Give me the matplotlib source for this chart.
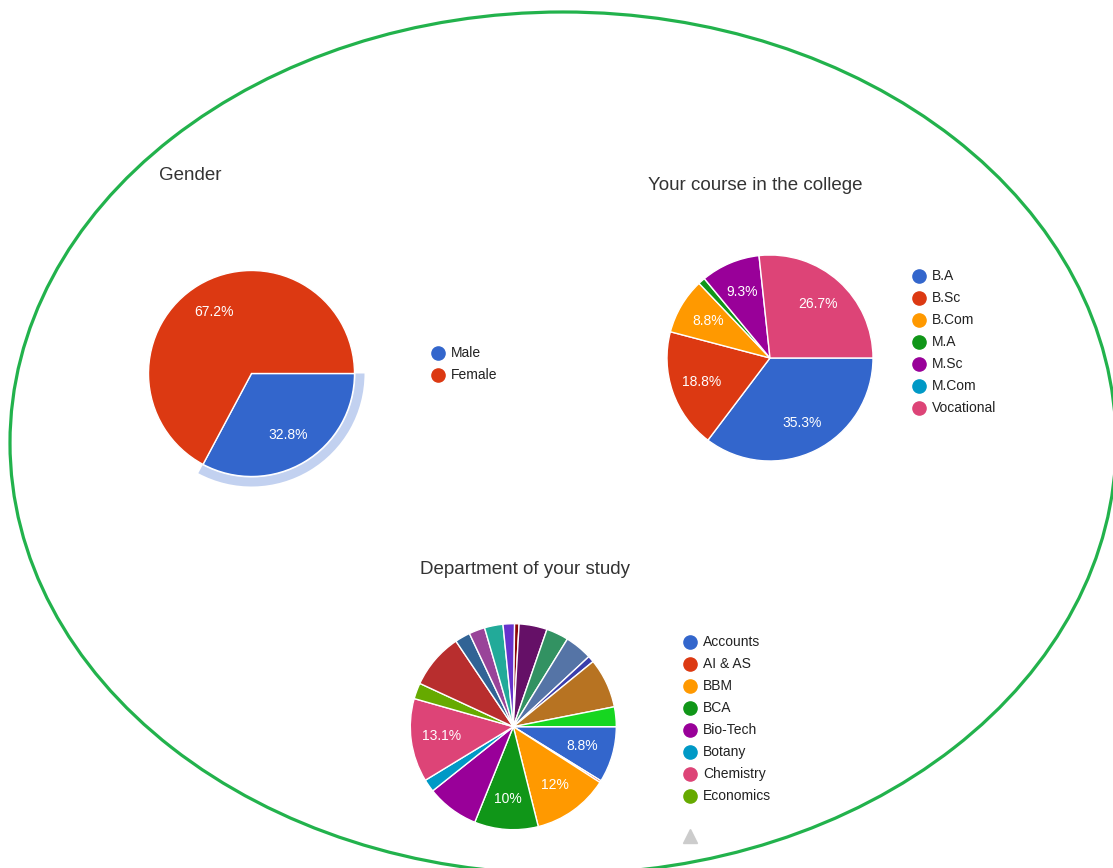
import matplotlib
matplotlib.use("Agg")
import matplotlib.pyplot as plt
from matplotlib.patches import Ellipse, Wedge

# ---------------- data ----------------
gender_labels = ["Male", "Female"]
gender_values = [32.8, 67.2]
gender_colors = ["#3366cc", "#dc3912"]

course_labels = ["B.A", "B.Sc", "B.Com", "M.A", "M.Sc", "M.Com", "Vocational"]
course_values = [35.3, 18.8, 8.8, 1.1, 9.3, 0.0, 26.7]
course_colors = ["#3366cc", "#dc3912", "#ff9900", "#109618", "#990099", "#0099c6", "#dd4477"]

dept_labels = ["Accounts", "AI & AS", "BBM", "BCA", "Bio-Tech", "Botany", "Chemistry",
               "Economics", "English", "Geography", "History", "Hindi", "Mathematics",
               "Microbiology", "Physics", "Political Science", "Psychology", "Sociology",
               "Statistics", "Zoology"]
dept_values = [8.8, 0.3, 12.0, 10.0, 8.2, 2.0, 13.1,
               2.5, 8.7, 2.4, 2.5, 2.9, 1.8,
               0.7, 4.4, 3.5, 4.3, 1.0, 7.8, 3.1]
dept_colors = ["#3366cc", "#dc3912", "#ff9900", "#109618", "#990099", "#0099c6", "#dd4477",
               "#66aa00", "#b82e2e", "#316395", "#994499", "#22aa99", "#6633cc",
               "#8b0707", "#651067", "#329262", "#5574a6", "#3b3eac", "#b77322", "#16d620"]
dept_legend_count = 8

# ---------------- figure ----------------
W, H = 1113, 868
plt.rcParams['font.family'] = ['Liberation Sans', 'DejaVu Sans']
fig = plt.figure(figsize=(W / 100, H / 100), dpi=100)
ax = fig.add_axes([0, 0, 1, 1])

def Y(y):
    return H - y

R = 103
LABEL_MIN = 8.75
TXT = "#222222"

def fmt(p):
    if p < LABEL_MIN:
        return ""
    s = f"{p:.1f}"
    if s.endswith(".0"):
        s = s[:-2]
    return s + "%"

def draw_pie(values, colors, cx, cy):
    vals = [v for v in values if v > 0]
    cols = [c for v, c in zip(values, colors) if v > 0]
    wedges, _, _ = ax.pie(vals, colors=cols, center=(cx, Y(cy)), radius=R,
                          startangle=0, counterclock=False, frame=True,
                          autopct=fmt, pctdistance=0.7,
                          wedgeprops=dict(edgecolor="white", linewidth=1.0),
                          textprops=dict(color="white", fontsize=10))
    return wedges

def draw_legend(labels, colors, x, y0, dy=22):
    for i, (lab, col) in enumerate(zip(labels, colors)):
        yy = Y(y0 + i * dy)
        ax.plot([x], [yy], marker="o", markersize=9.5, color=col, linestyle="none")
        ax.text(x + 13, yy, lab, fontsize=10, color=TXT, va="center", ha="left")

# Gender
draw_pie(gender_values, gender_colors, 251.5, 373.5)
male_frac = gender_values[0] / sum(gender_values)
ax.add_patch(Wedge((251.5, Y(373.5)), R + 10, -360 * male_frac, 0, width=9,
                   facecolor="#c2d1f0", edgecolor="none"))
ax.text(159, Y(175), "Gender", fontsize=13.5, color="#333333", ha="left", va="center")
draw_legend(gender_labels, gender_colors, 437.5, 353)

# Course
draw_pie(course_values, course_colors, 770, 358)
ax.text(648, Y(186), "Your course in the college", fontsize=13.5, color="#333333",
        ha="left", va="center")
draw_legend(course_labels, course_colors, 919, 275.5)

# Department
draw_pie(dept_values, dept_colors, 513.3, 726.7)
ax.text(420, Y(570), "Department of your study", fontsize=13.5, color="#333333",
        ha="left", va="center")
draw_legend(dept_labels[:dept_legend_count], dept_colors[:dept_legend_count], 690, 642)
ax.plot([690], [Y(836)], marker="^", markersize=10, color="#cccccc", linestyle="none")

# Surrounding green ellipse
ax.add_patch(Ellipse((563, Y(443)), 2 * 553, 2 * 431, facecolor="none",
                     edgecolor="#22b24c", linewidth=2.3))

ax.set_xlim(0, W)
ax.set_ylim(0, H)
ax.set_aspect("equal")
ax.axis("off")
fig.savefig("out.png", dpi=100, facecolor="white")
